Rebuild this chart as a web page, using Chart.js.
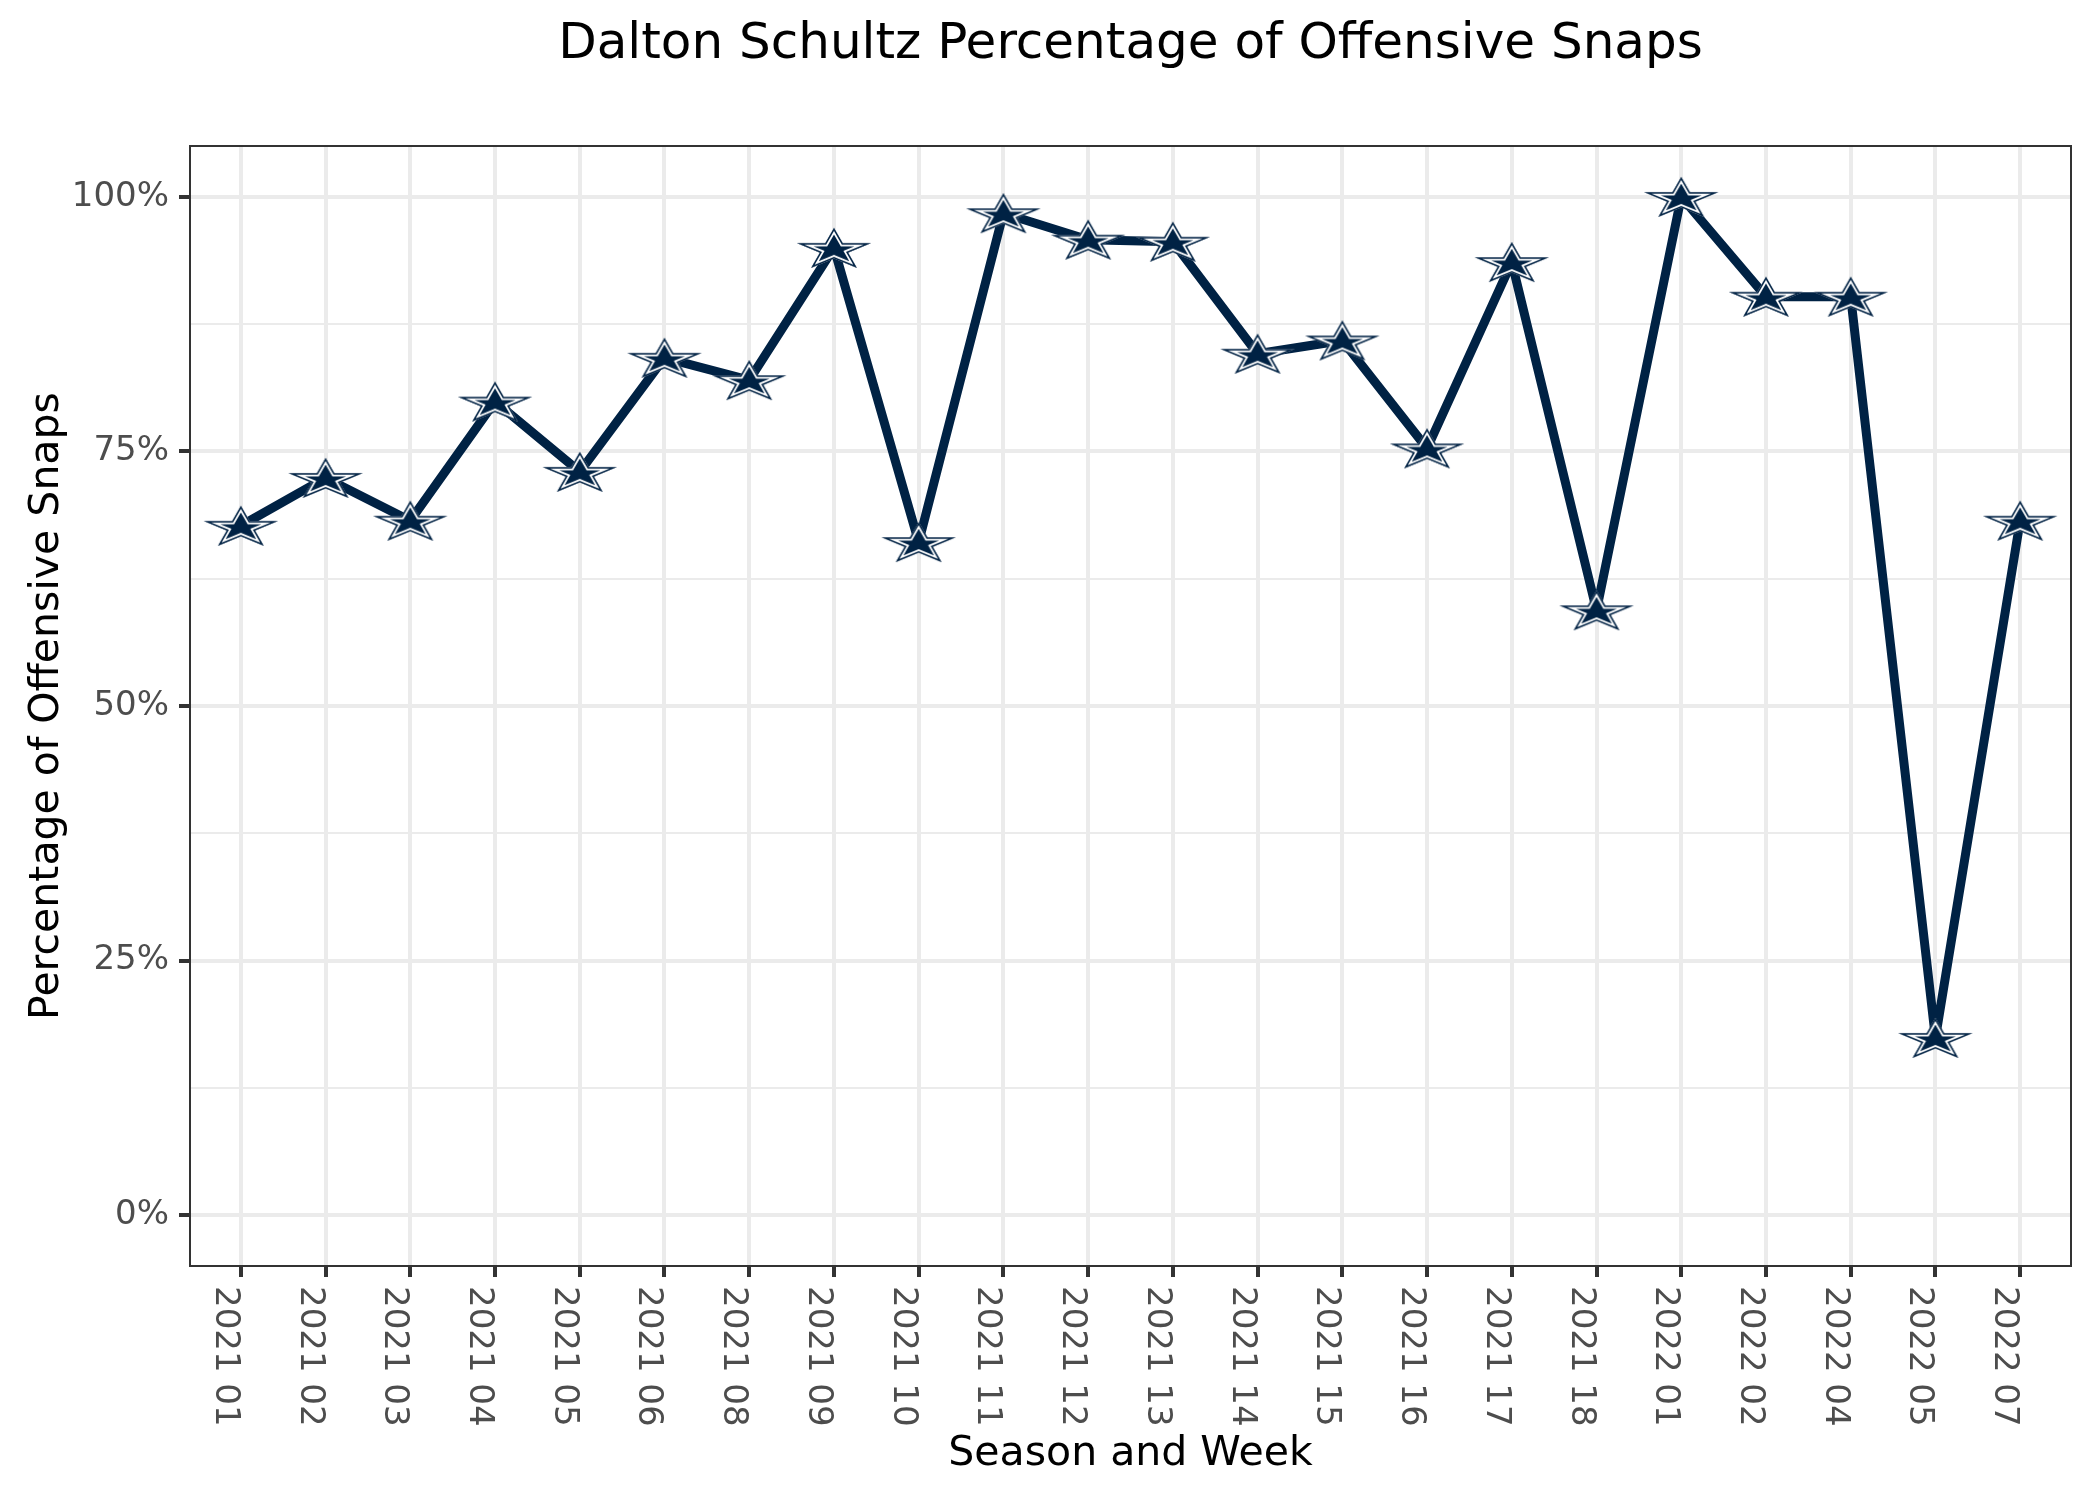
<!DOCTYPE html>
<html lang="en">
<head>
<meta charset="utf-8">
<title>Dalton Schultz Percentage of Offensive Snaps</title>
<script src="https://cdn.jsdelivr.net/npm/chart.js@4.4.1/dist/chart.umd.min.js"></script>
<style>
    html, body { margin: 0; padding: 0; background: #ffffff; }
    canvas { display: block; }
</style>
</head>
<body>
<canvas id="graficoSnaps" width="2100" height="1500"></canvas>
<script>
const weeks = [
    '2021 01', '2021 02', '2021 03', '2021 04', '2021 05', '2021 06',
    '2021 08', '2021 09', '2021 10', '2021 11', '2021 12', '2021 13',
    '2021 14', '2021 15', '2021 16', '2021 17', '2021 18',
    '2022 01', '2022 02', '2022 04', '2022 05', '2022 07'
];
const snapPct = [
    67.7, 72.4, 68.2, 79.9, 73.0, 84.2,
    82.0, 95.0, 66.1, 98.4, 95.8, 95.6,
    84.6, 85.9, 75.3, 93.6, 59.4,
    100.0, 90.2, 90.2, 17.4, 68.2
];
const yMajorTicks = [0, 25, 50, 75, 100];
const yMinorTicks = [12.5, 37.5, 62.5, 87.5];

const chartTitle = 'Dalton Schultz Percentage of Offensive Snaps';
const xTitle = 'Season and Week';
const yTitle = 'Percentage of Offensive Snaps';

(function () {
    const canvas = document.getElementById('graficoSnaps');

    if (!canvas || typeof Chart === 'undefined') {
        return;
    }

    const NAVY = '#002244';
    const FONT = "'DejaVu Sans', 'Liberation Sans', sans-serif";

    // star outline, squashed like the ggimage icons
    function pontosEstrela(cx, cy, rx, ry) {
        const pts = [];
        for (let k = 0; k < 10; k++) {
            const ang = -Math.PI / 2 + k * Math.PI / 5;
            const f = k % 2 === 0 ? 1 : 0.382;
            pts.push([cx + Math.cos(ang) * rx * f, cy + Math.sin(ang) * ry * f]);
        }
        return pts;
    }

    function criarEstrela() {
        const w = 82;
        const h = 48;
        const c = document.createElement('canvas');
        c.width = w;
        c.height = h;
        const ctx = c.getContext('2d');
        const rx = 37 / 0.951;
        const ry = 40 / 1.809;
        const cy = h / 2 + 0.0955 * ry;
        const pts = pontosEstrela(w / 2, cy, rx, ry);

        ctx.beginPath();
        pts.forEach(function (p, i) {
            if (i === 0) {
                ctx.moveTo(p[0], p[1]);
            } else {
                ctx.lineTo(p[0], p[1]);
            }
        });
        ctx.closePath();
        ctx.fillStyle = NAVY;
        ctx.fill();

        // inner white ring, kept inside the outline
        ctx.save();
        ctx.clip();
        ctx.lineJoin = 'miter';
        ctx.miterLimit = 20;
        ctx.strokeStyle = '#ffffff';
        ctx.lineWidth = 6.6;
        ctx.stroke();
        ctx.strokeStyle = NAVY;
        ctx.lineWidth = 3;
        ctx.stroke();
        ctx.restore();
        return c;
    }

    const estrela = criarEstrela();

    const painelPlugin = {
        id: 'painelSnaps',
        afterDraw: function (chart) {
            const ctx = chart.ctx;
            const area = chart.chartArea;
            const xScale = chart.scales.x;

            ctx.save();

            ctx.fillStyle = '#000000';
            ctx.font = '50px ' + FONT;
            ctx.textAlign = 'center';
            ctx.textBaseline = 'alphabetic';
            ctx.fillText(chartTitle, (area.left + area.right) / 2, 58);

            ctx.strokeStyle = '#333333';
            ctx.lineWidth = 2;
            ctx.strokeRect(area.left, area.top, area.right - area.left, area.bottom - area.top);

            // x labels read top to bottom, like angle = -90 in ggplot
            ctx.font = '34px ' + FONT;
            ctx.fillStyle = '#4D4D4D';
            ctx.textAlign = 'left';
            weeks.forEach(function (semana, i) {
                const px = xScale.getPixelForValue(i);
                ctx.save();
                ctx.translate(px, area.bottom + 20);
                ctx.rotate(Math.PI / 2);
                ctx.fillText(semana, 0, 25);
                ctx.restore();
            });

            ctx.restore();
        }
    };

    function ehMenor(ctx) {
        return !!ctx.tick && yMinorTicks.includes(ctx.tick.value);
    }

    new Chart(canvas, {
        type: 'line',
        data: {
            datasets: [{
                data: snapPct.map(function (v, i) {
                    return { x: i, y: v };
                }),
                borderColor: NAVY,
                borderWidth: 9,
                borderJoinStyle: 'round',
                borderCapStyle: 'butt',
                tension: 0,
                fill: false,
                pointStyle: estrela,
                pointRadius: 20,
                pointHoverRadius: 20
            }]
        },
        options: {
            responsive: false,
            animation: false,
            devicePixelRatio: 1,
            events: [],
            layout: {
                padding: { top: 146, right: 25, bottom: 0, left: 0 }
            },
            plugins: {
                legend: { display: false },
                tooltip: { enabled: false },
                title: { display: false }
            },
            scales: {
                x: {
                    type: 'linear',
                    min: -0.6,
                    max: 21.6,
                    afterBuildTicks: function (scale) {
                        scale.ticks = weeks.map(function (_, i) {
                            return { value: i };
                        });
                    },
                    afterFit: function (scale) {
                        scale.height = 234;
                    },
                    ticks: { display: false },
                    grid: {
                        color: '#EBEBEB',
                        lineWidth: 4,
                        drawTicks: true,
                        tickLength: 11,
                        tickColor: '#333333',
                        tickWidth: 4
                    },
                    border: { display: false },
                    title: {
                        display: true,
                        text: xTitle,
                        color: '#000000',
                        font: { family: FONT, size: 41 },
                        padding: { top: 0, bottom: 21 }
                    }
                },
                y: {
                    min: -5,
                    max: 105,
                    afterBuildTicks: function (scale) {
                        scale.ticks = yMajorTicks.concat(yMinorTicks)
                            .sort(function (a, b) { return a - b; })
                            .map(function (v) { return { value: v }; });
                    },
                    afterFit: function (scale) {
                        scale.width = 190;
                    },
                    ticks: {
                        autoSkip: false,
                        padding: 10,
                        color: '#4D4D4D',
                        font: { family: FONT, size: 34 },
                        callback: function (value) {
                            return yMinorTicks.includes(value) ? '' : value + '%';
                        }
                    },
                    grid: {
                        color: '#EBEBEB',
                        lineWidth: function (ctx) {
                            return ehMenor(ctx) ? 2 : 4;
                        },
                        drawTicks: true,
                        tickLength: 11,
                        tickColor: function (ctx) {
                            return ehMenor(ctx) ? 'rgba(0,0,0,0)' : '#333333';
                        },
                        tickWidth: 4
                    },
                    border: { display: false },
                    title: {
                        display: true,
                        text: yTitle,
                        color: '#000000',
                        font: { family: FONT, size: 41 },
                        padding: { top: 23, bottom: 0 }
                    }
                }
            }
        },
        plugins: [painelPlugin]
    });
})();
</script>
</body>
</html>
